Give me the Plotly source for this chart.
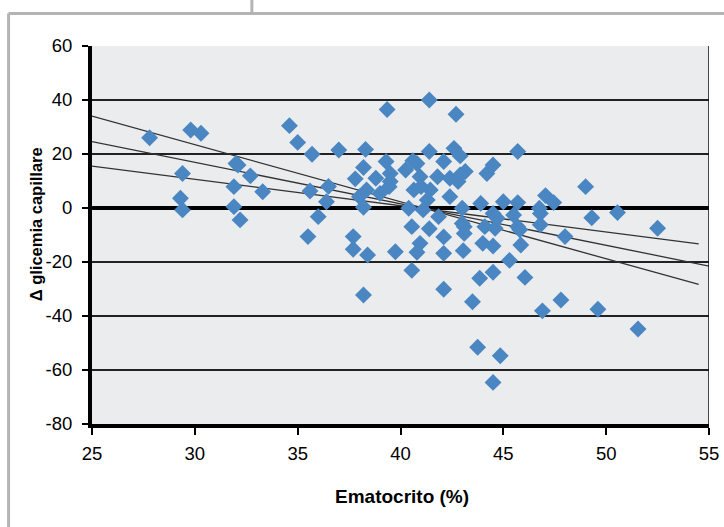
import plotly.graph_objects as go

# Data
ematocrito = [
    27.8, 29.8, 30.3, 29.4, 29.3, 29.4, 32.0, 32.1, 32.7, 31.9, 33.3, 31.9, 32.2,
    34.6, 35.0, 35.7, 35.6, 36.0, 35.5, 36.5, 36.4,
    37.0, 38.3, 38.2, 37.8, 38.8, 38.35, 38.0, 39.0, 38.2, 39.35, 39.3, 39.5, 39.5,
    37.7, 37.7, 38.4, 39.75, 38.2, 39.45,
    41.4, 41.4, 40.8, 40.25, 42.1, 40.95, 41.8, 40.65, 41.0, 41.45, 41.3, 40.6,
    40.4, 41.1, 41.85, 40.55, 41.4, 42.1, 40.95, 40.8, 42.1, 40.55, 42.1, 42.4, 42.4,
    42.7, 42.6, 42.9, 43.15, 44.5, 44.2, 42.8, 43.9, 45.0, 43.0, 44.5, 43.0, 43.1,
    44.1, 44.6, 43.1, 43.05, 44.0, 44.5, 43.85, 44.5, 43.5, 43.75, 44.85, 44.5, 44.7, 42.9,
    45.7, 45.7, 45.5, 45.7, 45.85, 45.3, 46.05, 47.05, 47.45, 46.8, 46.75, 46.8,
    46.9, 47.8, 48.0, 45.8,
    49.0, 49.3, 50.55, 52.5, 49.6, 51.55,
]
delta_glicemia = [
    26.0, 28.9, 27.7, 12.8, 3.6, -0.7, 16.5, 15.9, 11.9, 7.9, 6.0, 0.5, -4.4,
    30.5, 24.3, 19.9, 6.3, -3.2, -10.6, 8.0, 2.3,
    21.5, 21.7, 15.0, 10.8, 11.0, 6.7, 4.2, 5.4, 0.3, 36.5, 17.2, 12.8, 9.8,
    -10.6, -15.3, -17.4, -16.2, -32.2, 7.9,
    40.0, 20.9, 16.5, 14.1, 17.2, 11.6, 11.6, 6.7, 7.9, 6.7, 3.0, 17.5,
    -0.1, -0.7, -3.2, -6.9, -7.7, -10.7, -13.1, -16.4, -16.8, -23.1, -30.1, 11.0, 4.2,
    34.7, 22.1, 19.3, 13.5, 15.9, 12.8, 9.8, 1.7, 2.3, -0.1, -2.0, -5.7, -6.9,
    -6.9, -7.5, -9.4, -15.8, -13.1, -14.1, -26.0, -23.8, -34.7, -51.6, -54.7, -64.6, -3.8, 12.2,
    20.9, 2.0, -2.6, -6.9, -13.7, -19.4, -25.7, 4.6, 2.0, -2.0, -0.1, -6.2,
    -38.1, -34.1, -10.6, -8.1,
    7.9, -3.6, -1.7, -7.5, -37.5, -44.8,
]

# Three regression lines (end points)
trend_x = [[25, 54.5], [25, 55.0], [25, 54.5]]
trend_y = [[34.0, -28.3], [24.6, -21.5], [15.5, -13.3]]

x_ticks = [25, 30, 35, 40, 45, 50, 55]
y_ticks = [-80, -60, -40, -20, 0, 20, 40, 60]

FONT = "Liberation Sans, Arial, sans-serif"

W, H = 724, 527
ML, MR, MT, MB = 91.5, 15, 46, 102.5
PW, PH = W - ML - MR, H - MT - MB


def px_x(p):
    return (p - ML) / PW


def px_y(p):
    return (H - MB - p) / PH


fig = go.Figure()

for xs, ys in zip(trend_x, trend_y):
    fig.add_trace(go.Scatter(x=xs, y=ys, mode="lines",
                             line=dict(color="#333333", width=1.3),
                             showlegend=False, hoverinfo="skip"))

fig.add_trace(go.Scatter(x=ematocrito, y=delta_glicemia, mode="markers",
                         marker=dict(symbol="diamond", size=13, color="#4A86C1",
                                     line=dict(width=0)),
                         showlegend=False))

shapes = [
    dict(type="line", xref="x", yref="y", x0=55, x1=55, y0=-80, y1=60,
         line=dict(color="#111111", width=1.5), layer="above"),
    dict(type="line", xref="paper", yref="paper", x0=px_x(8), x1=px_x(8),
         y0=px_y(13.5), y1=px_y(540), line=dict(color="#b4b4b4", width=3)),
    dict(type="line", xref="paper", yref="paper", x0=px_x(8), x1=px_x(740),
         y0=px_y(13.5), y1=px_y(13.5), line=dict(color="#b4b4b4", width=3)),
    dict(type="line", xref="paper", yref="paper", x0=px_x(251.5), x1=px_x(251.5),
         y0=px_y(13.5), y1=px_y(-5), line=dict(color="#b4b4b4", width=3)),
]

annotations = [
    dict(text="<b>Ematocrito (%)</b>", xref="paper", yref="paper",
         x=px_x(402), y=px_y(497), xanchor="center", yanchor="middle",
         showarrow=False, font=dict(family=FONT, size=19, color="black")),
    dict(text="<b>Δ glicemia capillare</b>", xref="paper", yref="paper",
         x=px_x(35), y=px_y(225), xanchor="center", yanchor="middle", textangle=-90,
         showarrow=False, font=dict(family=FONT, size=16.5, color="black")),
]

fig.update_layout(
    width=W, height=H,
    margin=dict(l=ML, r=MR, t=MT, b=MB, pad=0),
    paper_bgcolor="white",
    plot_bgcolor="#EBECEE",
    font=dict(family=FONT, size=18, color="black"),
    shapes=shapes,
    annotations=annotations,
    xaxis=dict(
        range=[25, 55], tickvals=x_ticks, ticktext=[str(v) for v in x_ticks],
        showgrid=False, zeroline=False, automargin=False,
        showline=True, linecolor="black", linewidth=4,
        ticks="outside", ticklen=7, tickwidth=1.5, tickcolor="black",
        tickfont=dict(family=FONT, size=18.5), ticklabelstandoff=3,
    ),
    yaxis=dict(
        range=[-80, 60], tickvals=y_ticks, ticktext=[str(v) for v in y_ticks],
        showgrid=True, gridcolor="#222222", gridwidth=1.5,
        zeroline=True, zerolinecolor="black", zerolinewidth=4,
        showline=True, linecolor="black", linewidth=4, automargin=False,
        ticks="outside", ticklen=6, tickwidth=1.5, tickcolor="black",
        tickfont=dict(family=FONT, size=18.5), ticklabelstandoff=6,
    ),
)

fig.write_html("out.html", config={"displayModeBar": False},
               post_script="document.body.style.margin='0';")
